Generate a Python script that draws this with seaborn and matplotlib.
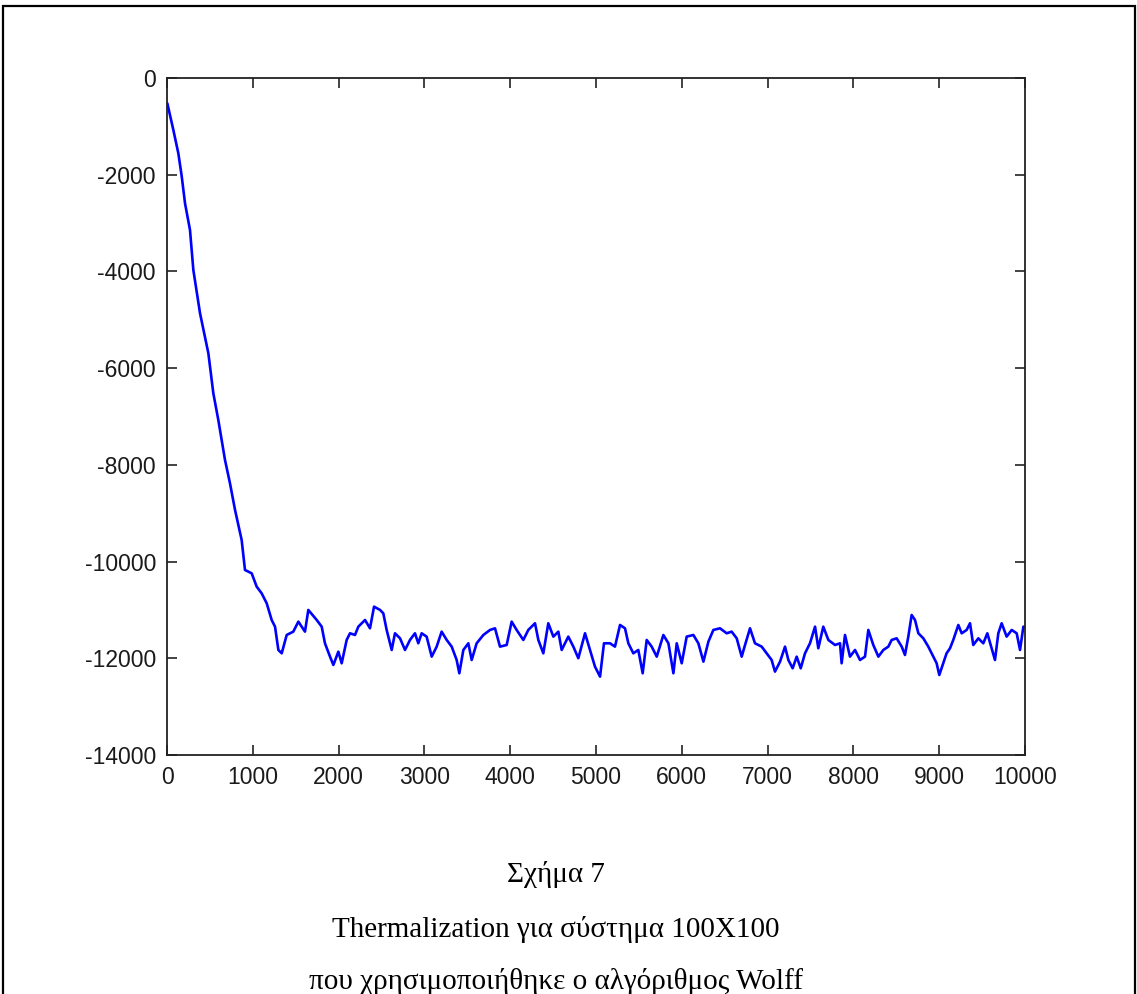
import matplotlib
matplotlib.use("Agg")
import matplotlib.pyplot as plt
import matplotlib.patches as mpatches
import seaborn as sns
import pandas as pd

# ---- data ----
steps = [4, 74, 132, 171, 210, 268, 307, 385, 482, 540, 598, 676, 734, 793, 870, 909,
         987, 1045, 1103, 1162, 1220, 1259, 1298, 1337, 1395, 1472, 1531, 1608, 1647,
         1745, 1803, 1841, 1900, 1939, 1997, 2036, 2094, 2133, 2191, 2230, 2308, 2366,
         2413, 2483, 2521, 2560, 2619, 2657, 2716, 2774, 2832, 2890, 2929, 2968, 3026,
         3085, 3143, 3201, 3260, 3318, 3376, 3407, 3454, 3512, 3551, 3609, 3687, 3765,
         3823, 3881, 3959, 4017, 4075, 4153, 4211, 4289, 4328, 4386, 4444, 4503, 4561,
         4600, 4677, 4736, 4794, 4872, 4930, 4988, 5047, 5093, 5163, 5221, 5280, 5338,
         5377, 5435, 5493, 5544, 5591, 5649, 5708, 5785, 5844, 5902, 5941, 5999, 6057,
         6135, 6193, 6252, 6310, 6368, 6445, 6523, 6581, 6640, 6698, 6737, 6795, 6853,
         6931, 6989, 7047, 7086, 7145, 7203, 7242, 7292, 7339, 7386, 7436, 7494, 7553,
         7591, 7649, 7708, 7786, 7844, 7863, 7902, 7960, 8019, 8077, 8135, 8174, 8232,
         8291, 8349, 8407, 8446, 8504, 8563, 8601, 8640, 8679, 8718, 8757, 8815, 8873,
         8931, 8970, 9001, 9047, 9086, 9126, 9164, 9223, 9262, 9320, 9359, 9397, 9456,
         9514, 9561, 9611, 9650, 9689, 9728, 9786, 9845, 9903, 9942, 9981, 10000]
energy = [-524, -1075, -1557, -2026, -2592, -3143, -3970, -4866, -5693, -6520, -7072,
          -7899, -8381, -8933, -9553, -10174, -10243, -10518, -10656, -10863, -11208,
          -11346, -11828, -11897, -11518, -11449, -11242, -11449, -11000, -11208, -11346,
          -11690, -11966, -12138, -11863, -12103, -11621, -11483, -11518, -11346, -11208,
          -11380, -10932, -11000, -11070, -11414, -11828, -11483, -11587, -11828, -11621,
          -11483, -11690, -11483, -11552, -11966, -11759, -11449, -11621, -11759, -12035,
          -12310, -11828, -11690, -12035, -11690, -11518, -11414, -11380, -11759, -11725,
          -11242, -11414, -11621, -11414, -11276, -11621, -11897, -11276, -11552, -11449,
          -11828, -11552, -11759, -11999, -11483, -11828, -12172, -12379, -11690, -11690,
          -11759, -11311, -11380, -11690, -11897, -11828, -12310, -11621, -11759, -11966,
          -11518, -11690, -12310, -11690, -12103, -11552, -11518, -11690, -12069, -11655,
          -11414, -11380, -11483, -11449, -11587, -11966, -11725, -11380, -11690, -11759,
          -11897, -12035, -12276, -12069, -11759, -12035, -12207, -11966, -12207, -11897,
          -11690, -11346, -11793, -11346, -11621, -11725, -11690, -12103, -11518, -11966,
          -11828, -12035, -11966, -11414, -11725, -11966, -11828, -11759, -11621, -11587,
          -11759, -11931, -11552, -11104, -11208, -11483, -11587, -11759, -11966, -12103,
          -12345, -12103, -11897, -11793, -11621, -11311, -11483, -11414, -11276, -11725,
          -11587, -11690, -11483, -11793, -12035, -11483, -11276, -11552, -11414, -11483,
          -11828, -11346, -11350]
x_ticks = [0, 1000, 2000, 3000, 4000, 5000, 6000, 7000, 8000, 9000, 10000]
y_ticks = [-14000, -12000, -10000, -8000, -6000, -4000, -2000, 0]
caption_lines = ["Σχήμα 7",
                 "Thermalization για σύστημα 100X100",
                 "που χρησιμοποιήθηκε ο αλγόριθμος Wolff"]

df = pd.DataFrame({"step": steps, "energy": energy})

sns.set_style("ticks")
plt.rcParams["font.family"] = ["Liberation Sans", "DejaVu Sans"]

W, H = 1137, 994
fig = plt.figure(figsize=(W / 100, H / 100), dpi=100)
fig.patch.set_facecolor("white")

ax = fig.add_axes([167 / W, 1 - 755 / H, (1025 - 167) / W, (755 - 78) / H])
sns.lineplot(data=df, x="step", y="energy", ax=ax, color="#0000ff", linewidth=1.9)

ax.set_xlim(0, 10000)
ax.set_ylim(-14000, 0)
ax.set_xticks(x_ticks)
ax.set_yticks(y_ticks)
ax.set_xticklabels([str(t) for t in x_ticks])
ax.set_yticklabels([str(t) for t in y_ticks])
ax.set_xlabel("")
ax.set_ylabel("")
for s in ax.spines.values():
    s.set_visible(True)
    s.set_color("#222222")
    s.set_linewidth(1.3)
ax.tick_params(direction="in", length=7, width=1.2, colors="#222222",
               labelcolor="#1a1a1a", labelsize=16.5, top=True, right=True)
ax.tick_params(axis="y", pad=8)
ax.tick_params(axis="x", pad=8)

# outer frame (bottom edge falls outside the image)
frame = mpatches.Rectangle((2.5 / W, -0.05), (1134.5 - 2.5) / W, 1.05 - 5.5 / H,
                           transform=fig.transFigure, fill=False,
                           edgecolor="black", linewidth=1.6, clip_on=False)
fig.patches.append(frame)

baselines = [882, 937, 989]
for txt, y in zip(caption_lines, baselines):
    fig.text(556 / W, 1 - y / H, txt, ha="center", va="baseline",
             fontsize=21, family=["Liberation Serif", "DejaVu Serif"], color="black")

fig.savefig("out.png", dpi=100)
